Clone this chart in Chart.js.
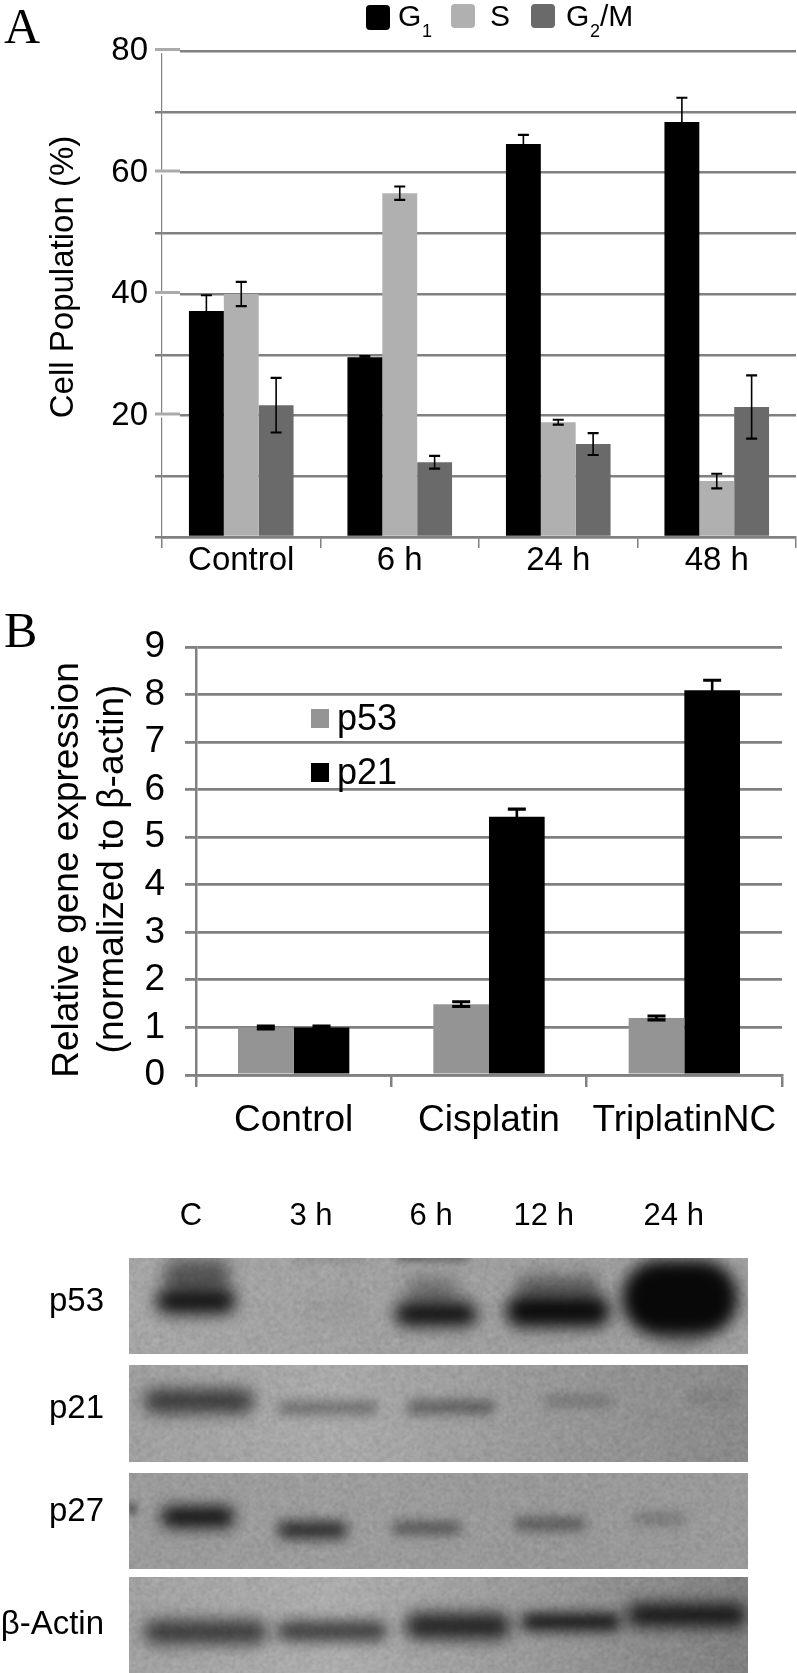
<!DOCTYPE html>
<html>
<head>
<meta charset="utf-8">
<title>Cell cycle and p53/p21 expression</title>
<script src="https://cdn.jsdelivr.net/npm/chart.js@4/dist/chart.umd.min.js"></script>
<style>
  html, body { margin: 0; background: #fff; }
  #page { position: relative; width: 797px; height: 1673px; overflow: hidden; }
  canvas { position: absolute; left: 0; }
  #chart-a { top: 0; }
  #chart-b { top: 600px; }
  #chart-blot { top: 1190px; }
</style>
</head>
<body>
<div id="page">
  <canvas id="chart-a" width="797" height="600"></canvas>
  <canvas id="chart-b" width="797" height="560"></canvas>
  <canvas id="chart-blot" width="797" height="483"></canvas>
</div>
<script>
// --- panel A
const phaseCats = ['Control', '6 h', '24 h', '48 h']
const phaseNames = ['G1', 'S', 'G2/M']
const g1Values = [37.2, 29.6, 64.7, 68.3]
const sValues = [40, 56.6, 18.9, 9.2]
const g2mValues = [21.7, 12.3, 15.3, 21.4]
const g1Err = [2.6, 0.2, 1.5, 4]
const sErr = [2, 1.1, 0.4, 1.2]
const g2mErr = [4.5, 1.05, 1.8, 5.2]
const phaseTickLabels = [20, 40, 60, 80]

// --- panel B
const geneCats = ['Control', 'Cisplatin', 'TriplatinNC']
const geneNames = ['p53', 'p21']
const p53Values = [1, 1.49, 1.2]
const p21Values = [1, 5.43, 8.09]
const p53Err = [0.03, 0.05, 0.04]
const p21Err = [0.03, 0.16, 0.21]

// --- blot: x = % across the gel, y = distance down the gel, level = band darkness
const laneNames = ['C', '3 h', '6 h', '12 h', '24 h']
const laneX = [10, 29.4, 48.8, 67, 88]
const rowNames = ['p53', 'p21', 'p27', 'β-Actin']
const rowY = [44, 151, 254, 367]
const p53X = [10.8, 32.5, 49.6, 69.3, 89]
const p53Y = [43, 52, 56, 53, 40]
const p53Level = [0.92, 0.03, 0.95, 0.98, 1]
const smearX = [11, 49, 69.3, 49, 32.5, 89]
const smearY = [17, 33, 28, 0, 0, 82]
const smearLevel = [0.5, 0.3, 0.4, 0.45, 0.2, 0.15]
const p21X = [11.3, 32.1, 52, 72.5, 94]
const p21Y = [143, 150, 149, 143, 139]
const p21Level = [0.68, 0.36, 0.42, 0.22, 0.1]
const p27X = [11.1, 29.6, 48.1, 68, 85.8]
const p27Y = [259, 272, 270, 266, 261]
const p27Level = [0.95, 0.78, 0.48, 0.42, 0.22]
const speckX = [0.5]
const speckY = [251]
const speckLevel = [0.9]
const actinX = [12.4, 32.8, 53.1, 71.4, 90.1]
const actinY = [374, 373, 368, 364, 357]
const actinLevel = [0.68, 0.66, 0.82, 0.88, 0.9]

// band sizes in px, same order as the arrays above
const p53Size = [[80, 26], [60, 20], [82, 24], [104, 32], [116, 76]]
const smearSize = [[68, 32], [54, 28], [82, 22], [72, 6], [72, 4], [42, 22]]
const p21Size = [[110, 24], [100, 13], [88, 14], [68, 13], [46, 12]]
const p27Size = [[74, 21], [70, 17], [69, 13], [72, 14], [54, 14]]
const speckSize = [[7, 9]]
const actinSize = [[124, 24], [110, 20], [106, 26], [100, 18], [120, 23]]

const SANS = '"Liberation Sans", Arial, sans-serif'
const SERIF = '"Liberation Serif", "Times New Roman", serif'
const GRID = '#808080'
const fontA = { family: SANS, size: 33 }
const fontB = { family: SANS, size: 37 }

// text helper for the bits Chart.js cant place (panel letters, shifted axis titles)
function put(ctx, text, x, y, font, rot) {
  ctx.save()
  ctx.translate(x, y)
  if (rot) ctx.rotate(rot)
  ctx.font = font
  ctx.fillStyle = '#000'
  ctx.textAlign = rot ? 'center' : 'left'
  ctx.textBaseline = rot ? 'middle' : 'alphabetic'
  ctx.fillText(text, 0, 0)
  ctx.restore()
}

const errorBars = (errs, capW, lineW) => ({
  id: 'errorBars',
  afterDatasetsDraw(chart) {
    const ctx = chart.ctx, y = chart.scales.y
    ctx.save()
    ctx.strokeStyle = '#000'
    errs.forEach((arr, i) => {
      const meta = chart.getDatasetMeta(i)
      const vals = chart.data.datasets[i].data
      arr.forEach((e, j) => {
        const x = meta.data[j].x
        const hi = y.getPixelForValue(vals[j] + e), lo = y.getPixelForValue(vals[j] - e)
        ctx.lineWidth = lineW
        ctx.beginPath()
        ctx.moveTo(x, hi); ctx.lineTo(x, lo)
        ctx.stroke()
        ctx.lineWidth = lineW + 0.5
        ctx.beginPath()
        ctx.moveTo(x - capW / 2, hi); ctx.lineTo(x + capW / 2, hi)
        ctx.moveTo(x - capW / 2, lo); ctx.lineTo(x + capW / 2, lo)
        ctx.stroke()
      })
    })
    ctx.restore()
  }
})

const legendA = {
  id: 'legendA',
  afterDraw(chart) {
    const ctx = chart.ctx
    // the labelled ticks are lighter and sit a touch above their gridline
    ctx.fillStyle = '#fff'
    phaseTickLabels.forEach(v => {
      const py = chart.scales.y.getPixelForValue(v)
      ctx.fillStyle = '#fff'
      ctx.fillRect(155, py - 2, 25, 4)
      ctx.fillStyle = '#ababab'
      ctx.fillRect(155, py - 3, 25, 3)
    })
    const items = [[366, 24, 5, 25, '#000', 398], [451, 24, 4, 24, '#b0b0b0', 490], [531, 24, 4, 24, '#6a6a6a', 566]]
    phaseNames.forEach((name, i) => {
      const [x, w, y, h, col, tx] = items[i]
      ctx.fillStyle = col
      ctx.beginPath()
      ctx.roundRect(x, y, w, h, 4)
      ctx.fill()
      const m = name.match(/^G(\d)(.*)$/)
      if (m) {
        put(ctx, 'G', tx, 26, '30px ' + SANS)
        put(ctx, m[1], tx + 24, 37, '18px ' + SANS)
        if (m[2]) put(ctx, m[2], tx + 34, 26, '30px ' + SANS)
      } else {
        put(ctx, name, tx, 26, '30px ' + SANS)
      }
    })
    put(ctx, 'A', 4, 43, '50px ' + SERIF)
    put(ctx, 'Cell Population (%)', 64, 277, '33px ' + SANS, -Math.PI / 2)
  }
}

const legendB = {
  id: 'legendB',
  afterDraw(chart) {
    const ctx = chart.ctx
    const items = [[109, '#949494'], [163, '#000']]
    geneNames.forEach((name, i) => {
      ctx.fillStyle = items[i][1]
      ctx.fillRect(311, items[i][0], 18, 19)
      put(ctx, name, 337, items[i][0] + 21, '36px ' + SANS)
    })
    put(ctx, 'B', 4, 47, '50px ' + SERIF)
    put(ctx, 'Relative gene expression', 68, 270, '37px ' + SANS, -Math.PI / 2)
    put(ctx, '(normalized to β-actin)', 113, 269, '37px ' + SANS, -Math.PI / 2)
  }
}

// Panel A
new Chart(document.querySelector('#chart-a'), {
  type: 'bar',
  data: {
    labels: phaseCats,
    datasets: [
      { label: phaseNames[0], data: g1Values, backgroundColor: '#000' },
      { label: phaseNames[1], data: sValues, backgroundColor: '#b0b0b0' },
      { label: phaseNames[2], data: g2mValues, backgroundColor: '#6a6a6a' },
    ],
  },
  options: {
    responsive: false,
    animation: false,
    events: [],
    barPercentage: 1,
    categoryPercentage: 0.66,
    layout: { padding: { top: 51, right: 1 } },
    plugins: { legend: { display: false }, tooltip: { enabled: false } },
    scales: {
      x: {
        afterFit: s => { s.height = 63 },
        border: { color: GRID, width: 2.5 },
        grid: { drawOnChartArea: false, color: GRID, lineWidth: 1.5, tickLength: 11 },
        ticks: { color: '#000', font: fontA, padding: -7, maxRotation: 0, autoSkip: false },
      },
      y: {
        min: 0, max: 80,
        afterFit: s => { s.width = 162 },
        border: { color: GRID, width: 1.2 },
        grid: { color: GRID, lineWidth: 2.5, tickLength: 7 },
        ticks: {
          stepSize: 10, color: '#000', font: fontA, padding: 7,
          callback: v => phaseTickLabels.includes(v) ? String(v) : '',
        },
      },
    },
  },
  plugins: [errorBars([g1Err, sErr, g2mErr], 11, 1.6), legendA],
})

// Panel B
new Chart(document.querySelector('#chart-b'), {
  type: 'bar',
  data: {
    labels: geneCats,
    datasets: [
      { label: geneNames[0], data: p53Values, backgroundColor: '#949494' },
      { label: geneNames[1], data: p21Values, backgroundColor: '#000' },
    ],
  },
  options: {
    responsive: false,
    animation: false,
    events: [],
    barPercentage: 1,
    categoryPercentage: 0.57,
    layout: { padding: { top: 47, right: 15 } },
    plugins: { legend: { display: false }, tooltip: { enabled: false } },
    scales: {
      x: {
        afterFit: s => { s.height = 85 },
        border: { color: GRID, width: 2.5 },
        grid: { drawOnChartArea: false, color: GRID, lineWidth: 2.5, tickLength: 12 },
        ticks: { color: '#000', font: fontB, padding: 12, maxRotation: 0, autoSkip: false },
      },
      y: {
        min: 0, max: 9,
        afterFit: s => { s.width = 196 },
        border: { color: GRID, width: 2.5 },
        grid: { color: GRID, lineWidth: 2.8, tickLength: 11 },
        ticks: { stepSize: 1, color: '#000', font: fontB, padding: 20 },
      },
    },
  },
  plugins: [errorBars([p53Err, p21Err], 18, 2.6), legendB],
})

// Blot. Each band is a scatter point whose pointStyle is a soft blurred sprite
function bandSprite(size, level) {
  const [w, h] = size
  const blur = Math.min(h / 4, 6) + 2
  const pad = Math.ceil(blur * 3)
  const c = document.createElement('canvas')
  c.width = w + pad * 2
  c.height = h + pad * 2
  const g = c.getContext('2d')
  g.filter = `blur(${blur}px)`
  g.fillStyle = `rgba(8,8,8,${level})`
  g.beginPath()
  g.roundRect(pad, pad, w, h, Math.min(w, h) / 2)
  g.fill()
  return c
}

function bandSet(xs, ys, levels, sizes) {
  return {
    data: xs.map((x, i) => ({ x, y: ys[i] })),
    pointStyle: sizes.map((s, i) => bandSprite(s, levels[i])),
    pointRadius: 5,
    showLine: false,
  }
}

// film grain tile, a fixed sin hash so every render is identical
function grainTile() {
  const size = 240
  const raw = document.createElement('canvas')
  raw.width = raw.height = size
  const g = raw.getContext('2d')
  const img = g.createImageData(size, size)
  for (let y = 0; y < size; y++) {
    for (let x = 0; x < size; x++) {
      const h = Math.sin(x * 12.9898 + y * 78.233) * 43758.5453
      const n = h - Math.floor(h)
      const k = (y * size + x) * 4
      const v = n > 0.5 ? 255 : 0
      img.data[k] = img.data[k + 1] = img.data[k + 2] = v
      img.data[k + 3] = Math.abs(n - 0.5) * 90
    }
  }
  g.putImageData(img, 0, 0)
  const soft = document.createElement('canvas')
  soft.width = soft.height = size
  const sg = soft.getContext('2d')
  sg.filter = 'blur(0.8px)'
  sg.drawImage(raw, 0, 0)
  return soft
}

const panelSpans = [[0, 96], [107, 204], [215, 311], [319, 415]]
const panelShades = [
  ['#a9a9a9', '#a4a4a4', '#a0a0a0', '#a2a2a2'],
  ['#a2a2a2', '#adadad', '#9a9a9a', '#8a8a8a'],
  ['#9c9c9c', '#9f9f9f', '#9a9a9a', '#9c9c9c'],
  ['#a4a4a4', '#b0b0b0', '#9a9a9a', '#7f7f7f'],
]

const gelPanels = {
  id: 'gelPanels',
  beforeDatasetsDraw(chart) {
    const { ctx, chartArea: a, scales: { y } } = chart
    const grain = ctx.createPattern(grainTile(), 'repeat')
    panelSpans.forEach((sp, i) => {
      const top = y.getPixelForValue(sp[0]), bottom = y.getPixelForValue(sp[1])
      const grad = ctx.createLinearGradient(a.left, 0, a.right, 0)
      panelShades[i].forEach((c, k) => grad.addColorStop(k / 3, c))
      ctx.fillStyle = grad
      ctx.fillRect(a.left, top, a.width, bottom - top)
      ctx.fillStyle = grain
      ctx.fillRect(a.left, top, a.width, bottom - top)
    })
  },
  afterDatasetsDraw(chart) {
    // bands must not bleed over the white gaps between the membranes
    const { ctx, chartArea: a, scales: { y } } = chart
    ctx.fillStyle = '#fff'
    for (let i = 0; i < panelSpans.length - 1; i++) {
      const top = y.getPixelForValue(panelSpans[i][1]), bottom = y.getPixelForValue(panelSpans[i + 1][0])
      ctx.fillRect(a.left, top, a.width, bottom - top)
    }
  },
}

new Chart(document.querySelector('#chart-blot'), {
  type: 'scatter',
  data: {
    datasets: [
      bandSet(p53X, p53Y, p53Level, p53Size),
      bandSet(p21X, p21Y, p21Level, p21Size),
      bandSet(p27X, p27Y, p27Level, p27Size),
      bandSet(actinX, actinY, actinLevel, actinSize),
      bandSet(speckX, speckY, speckLevel, speckSize),
      bandSet(smearX, smearY, smearLevel, smearSize),
    ],
  },
  options: {
    responsive: false,
    animation: false,
    events: [],
    layout: { padding: { right: 49 } },
    plugins: { legend: { display: false }, tooltip: { enabled: false } },
    scales: {
      x: {
        type: 'linear', position: 'top', min: 0, max: 100,
        afterFit: s => { s.height = 68; s.paddingLeft = 0; s.paddingRight = 0 },
        afterBuildTicks: s => { s.ticks = laneX.map(value => ({ value })) },
        border: { display: false },
        grid: { display: false },
        ticks: {
          color: '#000', font: { family: SANS, size: 31 }, padding: 15, autoSkip: false, maxRotation: 0,
          callback: (v, i) => laneNames[i],
        },
      },
      y: {
        // max is short of the last panel's 415: the chart area stops a few px above the canvas edge
        type: 'linear', reverse: true, min: 0, max: 409,
        afterFit: s => { s.width = 129; s.paddingTop = 0; s.paddingBottom = 0 },
        afterBuildTicks: s => { s.ticks = rowY.map(value => ({ value })) },
        border: { display: false },
        grid: { display: false },
        ticks: {
          color: '#000', font: { family: SANS, size: 33 }, padding: 17, autoSkip: false,
          callback: (v, i) => rowNames[i],
        },
      },
    },
  },
  plugins: [gelPanels],
})
</script>
</body>
</html>
